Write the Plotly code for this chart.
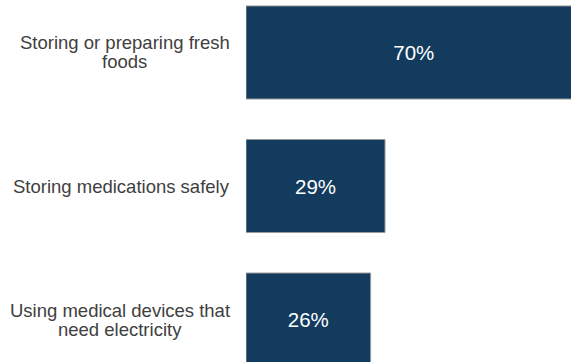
import plotly.graph_objects as go

categories = ["Storing or preparing fresh<br>foods",
              "Storing medications safely",
              "Using medical devices that<br>need electricity"]
values = [70, 29, 26]
value_labels = ["70%", "29%", "26%"]

BAR = "#123B5E"
TXT = "#404040"
FONT = "Liberation Sans, Arial, sans-serif"
LINE_GAP = 19
PLOT_L, PLOT_W = 246, 325
# horizontal centre (px) of each category label block
LABEL_CENTRES = [124.5, 121.5, 119.5]

fig = go.Figure()
fig.add_trace(go.Bar(
    y=categories, x=values, orientation="h",
    marker=dict(color=BAR, line=dict(color="#9a9a9a", width=1)),
    width=0.697,
    text=value_labels, textposition="inside", insidetextanchor="middle",
    textfont=dict(color="white", size=20.5, family=FONT),
    cliponaxis=True,
    hoverinfo="skip",
))

for c, cx in zip(categories, LABEL_CENTRES):
    lines = c.split("<br>")
    n = len(lines)
    for i, ln in enumerate(lines):
        fig.add_annotation(x=(cx - PLOT_L) / PLOT_W, xref="paper",
                           y=c, yref="y", text=ln, xanchor="center",
                           yshift=-(i - (n - 1) / 2) * LINE_GAP,
                           showarrow=False,
                           font=dict(size=18.5, color=TXT, family=FONT))

fig.update_layout(
    width=571, height=362,
    margin=dict(l=PLOT_L, r=0, t=0, b=0),
    paper_bgcolor="white", plot_bgcolor="white",
    showlegend=False,
    xaxis=dict(range=[0, 67.8], visible=False),
    yaxis=dict(categoryorder="array", categoryarray=categories,
               range=[2.318, -0.393], showticklabels=False, showgrid=False,
               zeroline=False, showline=False, ticks=""),
    font=dict(family=FONT),
)

fig.write_html("out.html",
               config={"displayModeBar": False},
               post_script="document.body.style.margin='0';document.body.style.overflow='hidden';")
